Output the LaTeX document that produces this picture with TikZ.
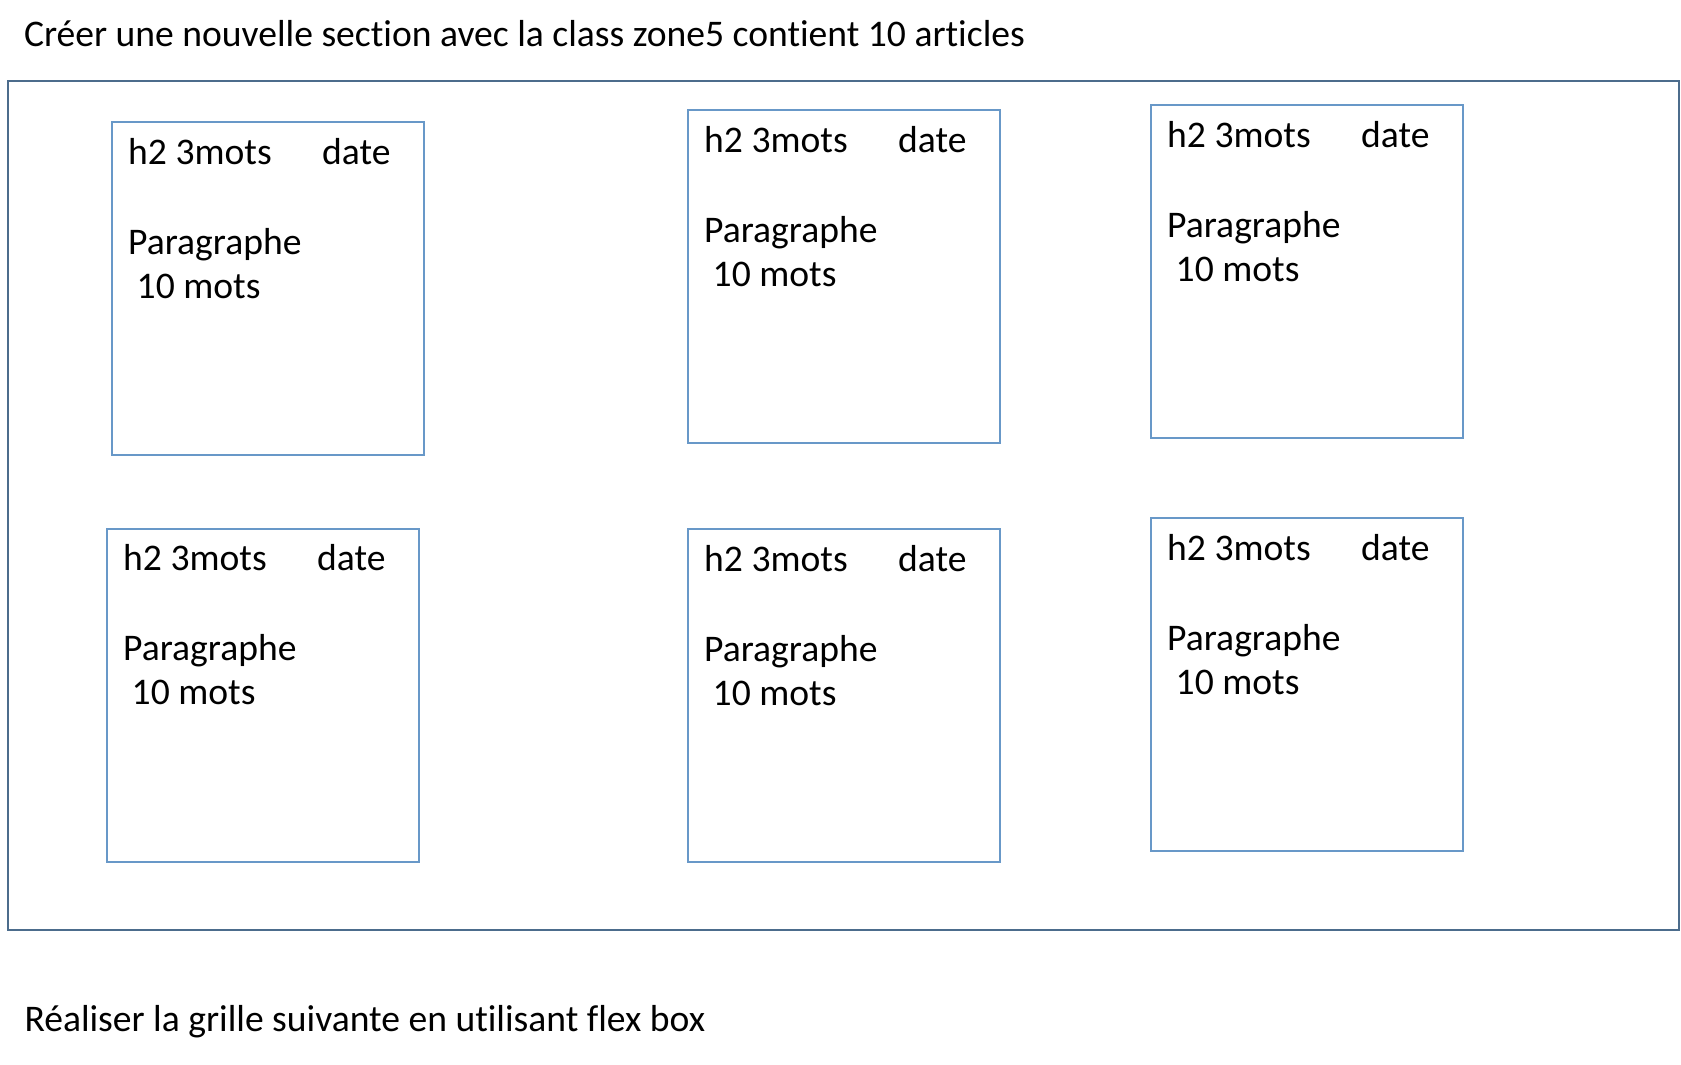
\documentclass[tikz,border=0pt]{standalone}
\usepackage{fontspec}
\setmainfont[Ligatures={NoCommon}]{Carlito}
\definecolor{cardblue}{RGB}{104,152,200}
\definecolor{outerblue}{RGB}{76,108,140}
\begin{document}
\begin{tikzpicture}[x=1pt,y=-1pt,
  txt/.style={anchor=base west, inner sep=0pt, outer sep=0pt, font=\fontsize{37.6}{44}\selectfont},
  card/.style={draw=cardblue, line width=2.4pt, anchor=north west, inner sep=0pt, outer sep=0pt,
    minimum width=312pt, minimum height=333pt},
  zone/.style={draw=outerblue, line width=2.2pt, anchor=north west, inner sep=0pt, outer sep=0pt,
    minimum width=1671.5pt, minimum height=849pt}]
\useasboundingbox (0,0) rectangle (1681,1065);
\node[txt] (title) at (24,46.7) {Créer une nouvelle section avec la class zone5 contient 10 articles};
\node[zone] (zone5) at (7.7,80.7) {};
\foreach \n/\x/\y in {1/111.7/122, 2/687.7/110, 3/1150.7/105, 4/106.7/528.7, 5/687.7/529, 6/1150.7/518}{
  \node[card] (b\n) at (\x,\y) {};
  \node[txt, xshift=16.5pt, yshift=-42pt] (h\n) at (b\n.north west) {h2 3mots};
  \node[txt, xshift=210.5pt, yshift=-42pt] (d\n) at (b\n.north west) {date};
  \node[txt, xshift=16.5pt, yshift=-132pt] (p\n) at (b\n.north west) {Paragraphe};
  \node[txt, xshift=25pt, yshift=-176pt] (m\n) at (b\n.north west) {10 mots};
}
\node[txt] (consigne) at (24.5,1031.7) {Réaliser la grille suivante en utilisant flex box};
\end{tikzpicture}
\end{document}
